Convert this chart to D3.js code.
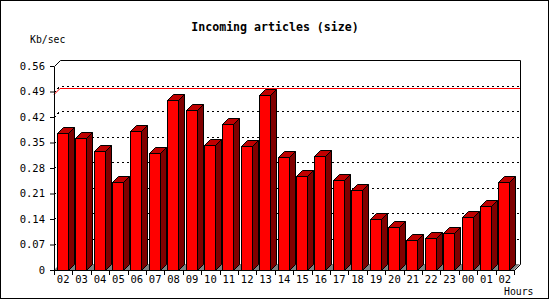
<!DOCTYPE html>
<html>
<head>
<meta charset="utf-8">
<script src="https://cdn.jsdelivr.net/npm/d3@7"></script>
<style>
  body { margin: 0; background: #fff; }
  text { font-family: "DejaVu Sans Mono", monospace; }
</style>
</head>
<body>
<div id="chart"></div>
<script>

//
// data
//
var hours = ["02","03","04","05","06","07","08","09","10","11","12","13",
             "14","15","16","17","18","19","20","21","22","23","00","01","02"];
var kbPerSec = [0.377, 0.362, 0.327, 0.241, 0.382, 0.320, 0.467, 0.439, 0.342,
                0.401, 0.340, 0.480, 0.310, 0.257, 0.312, 0.247, 0.219, 0.139,
                0.117, 0.082, 0.087, 0.101, 0.145, 0.175, 0.241];
var yTicks = [0, 0.07, 0.14, 0.21, 0.28, 0.35, 0.42, 0.49, 0.56];
var maxLine = 0.482;

//
// setup
//
var width = 550,
    height = 300,
    plotLeft = 54, plotRight = 514, plotTop = 66, plotBottom = 270,
    depth = 6;

var svg = d3.select("#chart")
    .append("svg")
    .attr("width", width)
    .attr("height", height);

var x = d3.scaleBand()
    .domain(d3.range(hours.length))
    .range([plotLeft, plotRight]);

var y = d3.scaleLinear()
    .domain([0, 0.56])
    .range([plotBottom, plotTop]);

// frame
svg.append("rect")
    .attr("x", 0.5).attr("y", 0.5)
    .attr("width", 548).attr("height", 298)
    .attr("fill", "#fff")
    .attr("stroke", "#000");

// title
svg.append("text")
    .attr("x", 275).attr("y", 31)
    .attr("text-anchor", "middle")
    .attr("font-size", "11.6px")
    .attr("font-weight", "bold")
    .text("Incoming articles (size)");

svg.append("text")
    .attr("x", 30).attr("y", 43)
    .attr("font-size", "9.8px")
    .text("Kb/sec");

svg.append("text")
    .attr("x", 504).attr("y", 295)
    .attr("font-size", "9.8px")
    .text("Hours");

//
// floor
//
svg.append("path")
    .attr("fill", "#808080")
    .attr("d", "M" + plotLeft + "," + plotBottom + "L" + (plotLeft + depth) + "," + (plotBottom - depth) +
               "L" + (plotRight + depth) + "," + (plotBottom - depth) + "L" + plotRight + "," + plotBottom + "Z");

//
// grid lines (left wall slant + back wall)
//
var grid = svg.append("g");
grid.selectAll("path")
    .data(yTicks.filter(function(d) { return d > 0 && d < 0.56; }))
    .enter()
    .append("path")
    .attr("fill", "none")
    .attr("stroke", "#000")
    .attr("stroke-dasharray", "2,3")
    .attr("shape-rendering", "crispEdges")
    .attr("d", function(d) {
      var yy = Math.round(y(d)) + 0.5;
      return "M" + plotLeft + "," + yy + "L" + (plotLeft + depth) + "," + (yy - depth) +
             "L" + (plotRight + depth) + "," + (yy - depth);
    });

// max line
var my = Math.round(y(maxLine)) + 0.5;
svg.append("path")
    .attr("fill", "none")
    .attr("stroke", "#ff0000")
    .attr("d", "M" + plotLeft + "," + my + "L" + (plotLeft + depth) + "," + (my - depth) +
               "L" + (plotRight + depth) + "," + (my - depth));

//
// box edges
//
svg.append("path")
    .attr("fill", "none")
    .attr("stroke", "#000")
    .attr("d", "M" + (plotLeft + 0.5) + "," + plotBottom + "L" + (plotLeft + 0.5) + "," + (plotTop + 0.5) +
               "L" + (plotLeft + depth + 0.5) + "," + (plotTop - depth + 0.5) +
               "L" + (plotRight + depth + 0.5) + "," + (plotTop - depth + 0.5) +
               "L" + (plotRight + depth + 0.5) + "," + (plotBottom - depth + 0.5) +
               "L" + (plotRight + 0.5) + "," + (plotBottom + 0.5));

//
// bars
//
var faceW = 11;
var bars = svg.append("g")
    .selectAll("g")
    .data(kbPerSec)
    .enter()
    .append("g")
    .attr("stroke", "#000")
    .attr("stroke-linejoin", "miter");

function bx(i) { return Math.round(x(i) + 2.8) + 0.5; }
function by(d) { return Math.round(y(d)) + 0.5; }

// side
bars.append("path")
    .attr("fill", "#800000")
    .attr("d", function(d, i) {
      var x0 = bx(i) + faceW, y0 = by(d);
      return "M" + x0 + "," + y0 + "L" + (x0 + depth) + "," + (y0 - depth) +
             "L" + (x0 + depth) + "," + (plotBottom - depth + 0.5) + "L" + x0 + "," + (plotBottom + 0.5) + "Z";
    });

// top
bars.append("path")
    .attr("fill", "#c00000")
    .attr("d", function(d, i) {
      var x0 = bx(i), y0 = by(d);
      return "M" + x0 + "," + y0 + "L" + (x0 + depth) + "," + (y0 - depth) +
             "L" + (x0 + faceW + depth) + "," + (y0 - depth) + "L" + (x0 + faceW) + "," + y0 + "Z";
    });

// front
bars.append("rect")
    .attr("fill", "#ff0000")
    .attr("x", function(d, i) { return bx(i); })
    .attr("y", function(d) { return by(d); })
    .attr("width", faceW)
    .attr("height", function(d) { return plotBottom + 0.5 - by(d); });

//
// axes
//
var yAxis = svg.append("g")
    .attr("transform", "translate(" + plotLeft + ",0)")
    .call(d3.axisLeft(y)
      .tickValues(yTicks)
      .tickSize(4)
      .tickPadding(5)
      .tickFormat(function(d) { return d === 0 ? "0" : d.toFixed(2); }));
yAxis.select(".domain").remove();
yAxis.selectAll("text").attr("font-size", "10.5px").attr("font-family", "DejaVu Sans Mono");

var xAxis = svg.append("g")
    .attr("transform", "translate(0," + plotBottom + ")")
    .call(d3.axisBottom(x)
      .tickSize(0)
      .tickPadding(6)
      .tickFormat(function(i) { return hours[i]; }));
xAxis.select(".domain").remove();
xAxis.selectAll("text").attr("font-size", "10.5px").attr("font-family", "DejaVu Sans Mono");

// slot boundary ticks
svg.append("g")
    .selectAll("line")
    .data(d3.range(hours.length + 1))
    .enter()
    .append("line")
    .attr("stroke", "#000")
    .attr("x1", function(i) { return Math.round(plotLeft + i * x.step()) + 0.5; })
    .attr("x2", function(i) { return Math.round(plotLeft + i * x.step()) + 0.5; })
    .attr("y1", plotBottom)
    .attr("y2", plotBottom + 5);

// bottom axis line
svg.append("line")
    .attr("stroke", "#000")
    .attr("x1", plotLeft).attr("x2", plotRight + 1)
    .attr("y1", plotBottom + 0.5).attr("y2", plotBottom + 0.5);

</script>
</body>
</html>
